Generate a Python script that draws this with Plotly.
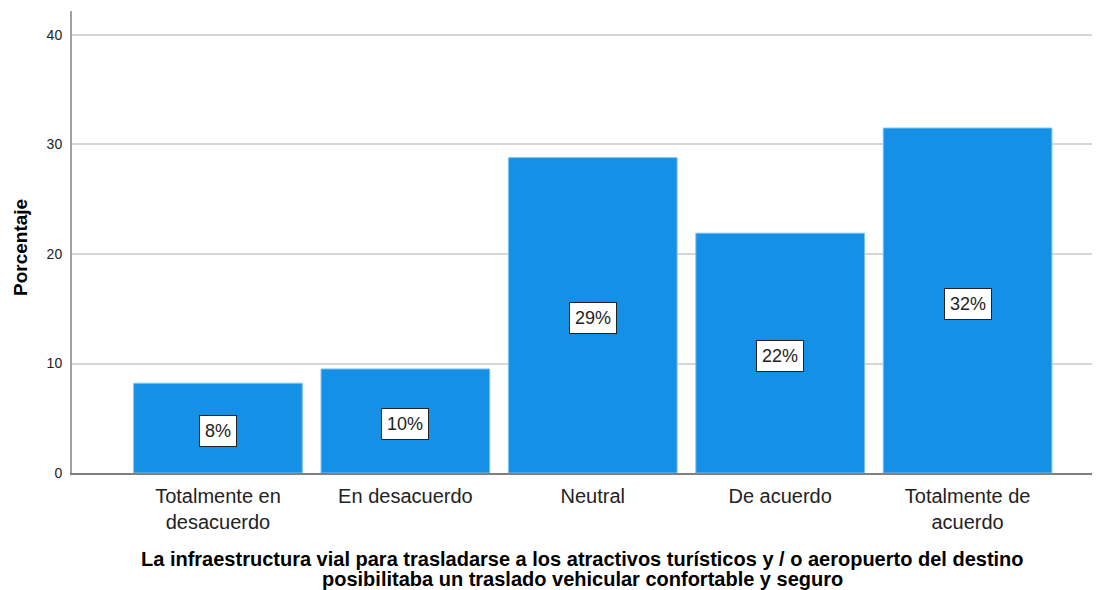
import plotly.graph_objects as go

categories = ["Totalmente en<br>desacuerdo", "En desacuerdo", "Neutral", "De acuerdo", "Totalmente de<br>acuerdo"]
values = [8.2, 9.5, 28.8, 21.9, 31.5]
y_ticks = [0, 10, 20, 30, 40]
x_title_lines = [
    "La infraestructura vial para trasladarse a los atractivos turísticos y / o aeropuerto del destino",
    "posibilitaba un traslado vehicular confortable y seguro",
]
y_title = "Porcentaje"

FONT = "Liberation Sans, Arial, sans-serif"
PLOT_H = 462.0
PLOT_W = 1020.0

fig = go.Figure()
fig.add_trace(go.Bar(
    x=list(range(len(categories))),
    y=values,
    marker=dict(color="#1490e6", line=dict(color="#7cc0f2", width=1)),
    hoverinfo="skip",
))

for i, v in enumerate(values):
    fig.add_annotation(
        x=i, y=v / 2, xref="x", yref="y", yshift=-3,
        text=f"{round(v)}%", showarrow=False,
        font=dict(family=FONT, size=18, color="#222222"),
        bgcolor="white", bordercolor="#222222", borderwidth=1, borderpad=5,
    )

for k, line in enumerate(x_title_lines):
    fig.add_annotation(
        x=0.5, y=-(86 + 20 * k) / PLOT_H, xref="paper", yref="paper",
        xanchor="center", yanchor="middle",
        text=f"<b>{line}</b>", showarrow=False,
        font=dict(family=FONT, size=20, color="black"),
    )
fig.add_annotation(
    x=(12 - 64) / PLOT_W, y=0.487, xref="paper", yref="paper", xanchor="center", yanchor="middle",
    text=f"<b>{y_title}</b>", showarrow=False, textangle=-90,
    font=dict(family=FONT, size=19, color="black"),
)

fig.update_layout(
    width=1094, height=582,
    margin=dict(l=64, r=10, t=3, b=117),
    paper_bgcolor="white", plot_bgcolor="white",
    bargap=0.1,
    showlegend=False,
    xaxis=dict(
        range=[-0.779, 4.664],
        tickmode="array",
        tickvals=list(range(len(categories))),
        ticktext=categories,
        tickfont=dict(family=FONT, size=20, color="#222222"),
        showgrid=False, zeroline=False,
        showline=True, linecolor="#808080", linewidth=2,
        ticks="outside", ticklen=4, tickcolor="rgba(0,0,0,0)",
    ),
    yaxis=dict(
        range=[0, 42.19],
        tickmode="array", tickvals=y_ticks,
        tickfont=dict(family=FONT, size=14, color="#222222"),
        showgrid=True, gridcolor="#d6d6d6", gridwidth=1.5,
        zeroline=False,
        showline=True, linecolor="#a0a0a0", linewidth=2,
        ticks="outside", ticklen=5, tickcolor="rgba(0,0,0,0)",
    ),
)

fig.write_html("out.html")
